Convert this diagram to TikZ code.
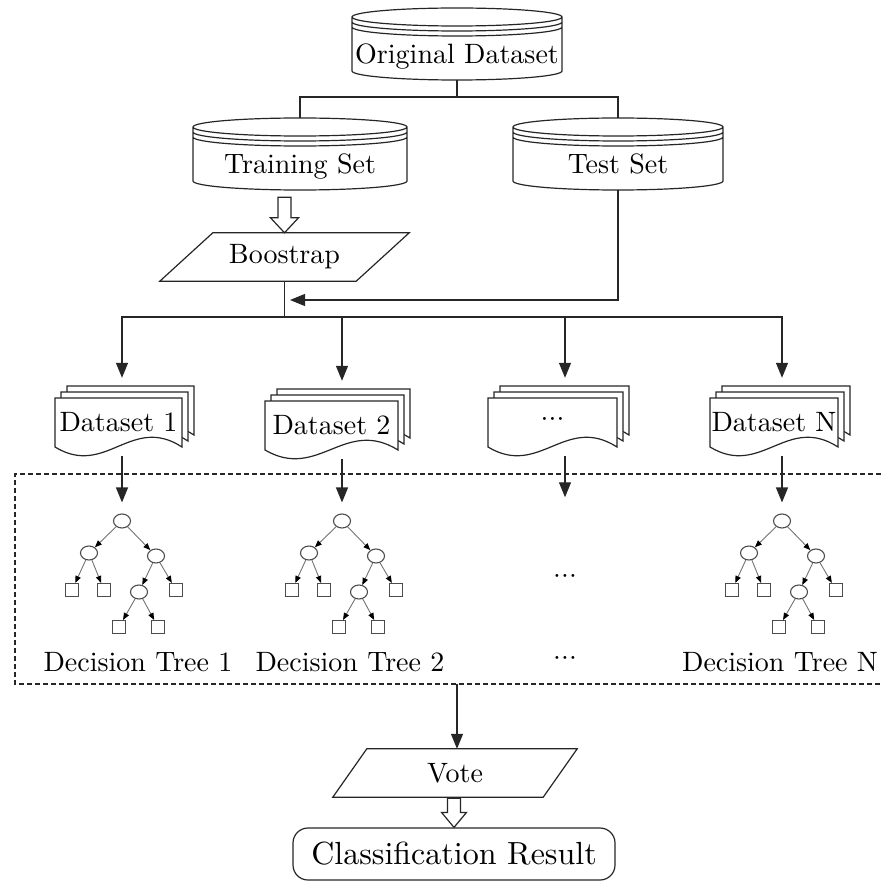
\documentclass[tikz,border=0pt]{standalone}
\usepackage{fontspec}
\setmainfont{lmroman10-regular.otf}
\usepackage{tikz}
\usetikzlibrary{arrows.meta, positioning, calc, shapes.geometric}

\tikzset{>={Triangle[length=15pt,width=12pt]}}
\tikzset{
  ln/.style={line width=1.2pt, draw=black!85},
  lbl/.style={font=\fontsize{28}{30}\selectfont, inner sep=0pt},
  dbox/.style={lbl, minimum width=#1, minimum height=72pt, text height=40pt, text depth=0pt},
  io/.style={lbl, minimum height=48pt},
  knot/.style={ellipse, draw=black!70, line width=1.1pt, minimum width=17pt, minimum height=14pt, inner sep=0pt},
  leaf/.style={rectangle, draw=black!70, line width=1.1pt, minimum size=13pt, inner sep=0pt},
  branch/.style={draw=black!55, line width=0.9pt, -{Triangle[length=7pt,width=5.5pt,color=black]}},
}

% stored data drum: name, centre x, top y, width, text
\newcommand{\disk}[5]{%
  \pgfmathsetmacro{\hw}{#4/2}
  \draw[ln] (#2-\hw,#3+9) -- (#2-\hw,#3+63)
    arc[start angle=180, end angle=360, x radius=\hw pt, y radius=9pt]
    -- (#2+\hw,#3+9)
    arc[start angle=0, end angle=180, x radius=\hw pt, y radius=9pt]
    arc[start angle=180, end angle=360, x radius=\hw pt, y radius=9pt]
    (#2-\hw,#3+14) arc[start angle=180, end angle=360, x radius=\hw pt, y radius=9pt]
    (#2-\hw,#3+19) arc[start angle=180, end angle=360, x radius=\hw pt, y radius=9pt];
  \node[dbox=#4pt] (#1) at (#2,#3+36) {#5};
}

% stack of pages: name, left x, top y, width, text
\newcommand{\pages}[5]{%
  \foreach \d in {12,6,0}
    \draw[ln, fill=white] (#2+\d,#3-\d) -- (#2+#4+\d,#3-\d) -- (#2+#4+\d,#3+49-\d)
      .. controls (#2+0.6*#4+\d,#3+16-\d) and (#2+0.4*#4+\d,#3+80-\d) .. (#2+\d,#3+49-\d) -- cycle;
  \node[lbl, minimum width=#4pt, minimum height=49pt] (#1) at (#2+#4/2,#3+24.5) {#5};
}

% slanted input box round a node: name, slant
\newcommand{\slanted}[2]{%
  \draw[ln] ([xshift=#2/2]#1.north west) -- ([xshift=#2/2]#1.north east)
    -- ([xshift=-#2/2]#1.south east) -- ([xshift=-#2/2]#1.south west) -- cycle;
}

% small decision tree: prefix, root x
\newcommand{\dtree}[2]{%
  \node[knot] (#1r) at (#2,521) {};
  \node[knot] (#1a) at (#2-33,553) {};
  \node[knot] (#1b) at (#2+34,556) {};
  \node[leaf] (#1c) at (#2-50,590) {};
  \node[leaf] (#1d) at (#2-18,590) {};
  \node[knot] (#1e) at (#2+17,592) {};
  \node[leaf] (#1f) at (#2+54,590) {};
  \node[leaf] (#1g) at (#2-3,627) {};
  \node[leaf] (#1h) at (#2+36,627) {};
  \foreach \u/\v in {r/a, r/b, a/c, a/d, b/e, b/f, e/g, e/h}
    \draw[branch] (#1\u) -- (#1\v);
}

% block arrow: from, to, gap, half head width
\newcommand{\hollow}[4]{%
  \draw[ln, fill=white] let \p1=(#1), \p2=(#2) in
    (\x2-6.5pt,\y1-#3pt) -- (\x2-6.5pt,\y2+15pt) -- (\x2-#4pt,\y2+15pt) -- (\x2,\y2)
    -- (\x2+#4pt,\y2+15pt) -- (\x2+6.5pt,\y2+15pt) -- (\x2+6.5pt,\y1-#3pt) -- cycle;
}

\newcommand{\onedot}{\makebox[8pt]{\textperiodcentered}}
\newcommand{\mdots}{\onedot\onedot\onedot}

\begin{document}
\begin{tikzpicture}[x=1pt, y=-1pt]
\useasboundingbox (0,0) rectangle (881,885);

% split of the data
\disk{orig}{457}{8}{210}{Original Dataset}
\disk{train}{300}{118}{214}{Training Set}
\disk{test}{618}{118}{210}{Test Set}

\coordinate (split) at (457,97);
\draw[ln] (orig.south) -- (split);
\draw[ln] (train.north) |- (split) -| (test.north);

\node[io, minimum width=196pt] (boot) at (284.5,257) {Boostrap};
\slanted{boot}{53}
\hollow{train.south}{boot.north}{7}{14}

\coordinate (bus) at (boot.south |- 0,317);
\coordinate (join) at (290,300);
\draw[ln] (boot.south) -- (bus);
\draw[ln,->] (test.south) |- (join);

% bootstrap samples
\pages{ds1}{55}{398}{127}{Dataset 1}
\pages{ds2}{265}{401}{133}{Dataset 2}
\pages{ds3}{488}{398}{129}{\mdots}
\pages{dsN}{710}{398}{128}{Dataset N}

\foreach \n/\s in {ds1/3.5, ds2/10.5, ds3/12.5, dsN/8}
  \draw[ln,->] (bus) -| ([xshift=\s pt, yshift=20pt]\n.north);

% trees
\draw[ln, dash pattern=on 5pt off 3pt] (881,474) -- (15,474) -- (15,684) -- (881,684);
\coordinate (frame) at (457,684);

\dtree{ta}{122}
\dtree{tb}{342}
\dtree{tn}{782}
\node[lbl] (gap) at (565,580) {\mdots};

\draw[ln,->,shorten <=9pt,shorten >=11pt] ([xshift=3.5pt]ds1.south) -- (tar);
\draw[ln,->,shorten <=9pt,shorten >=11pt] ([xshift=10.5pt]ds2.south) -- (tbr);
\draw[ln,->,shorten <=9pt,shorten >=77pt] ([xshift=12.5pt]ds3.south) -- (gap);
\draw[ln,->,shorten <=9pt,shorten >=11pt] ([xshift=8pt]dsN.south) -- (tnr);

\node[lbl] (lab1) at (138,662) {Decision Tree 1};
\node[lbl] (lab2) at (350,662) {Decision Tree 2};
\node[lbl] (lab3) at (565,662) {\mdots};
\node[lbl] (labN) at (780,662) {Decision Tree N};

% voting
\node[io, minimum width=210pt] (vote) at (455,773) {Vote};
\slanted{vote}{34}
\draw[ln,->] (frame) -- (frame |- vote.north);

\node[lbl, ln, draw, rounded corners=15pt, minimum width=322pt, minimum height=52pt, font=\fontsize{32}{34}\selectfont] (result) at (454,854) {Classification Result};
\hollow{vote.south}{result.north}{1}{12.5}
\end{tikzpicture}
\end{document}
